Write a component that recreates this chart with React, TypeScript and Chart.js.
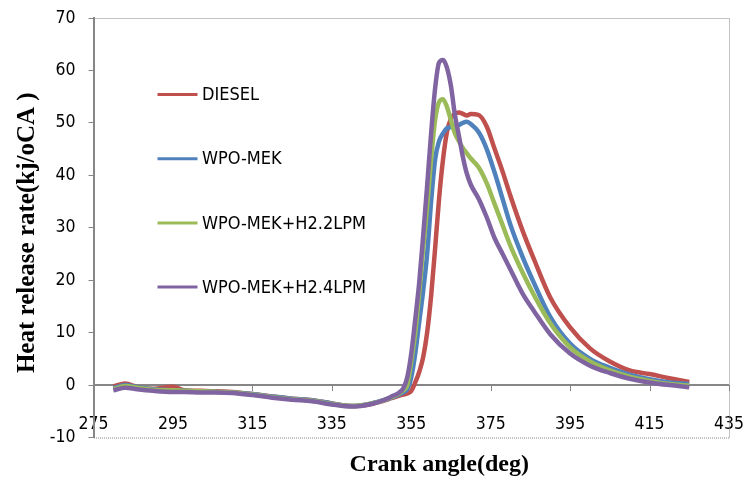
import React, { useEffect, useRef } from 'react';
import { Chart, registerables } from 'chart.js';
Chart.register(...registerables);

// Crank angle (deg)
const angles = [
  280, 283, 286, 290, 295, 298, 302, 306, 310, 315,
  320, 325, 330, 335, 340, 345, 348, 350, 352, 353,
  354, 355, 356, 357, 358, 359, 360, 361, 362, 363,
  364, 365, 366, 367, 368, 369, 370, 372, 374, 376,
  378, 380, 383, 386, 390, 395, 400, 405, 410, 415, 420, 425,
];

// Heat release rate (kj/oCA)
const diesel = [
  -0.2, 0.3, -0.4, -0.7, -0.3, -1.0, -1.1, -1.2, -1.3, -1.7,
  -2.2, -2.6, -2.9, -3.5, -4.0, -3.6, -3.0, -2.5, -2.0, -1.8,
  -1.6, -1.1, 0.5, 2.5, 5.3, 10, 17, 26, 35.5, 43,
  48.3, 50.8, 51.8, 52, 51.7, 51.4, 51.7, 51.5, 49.3, 45,
  40.7, 36, 29.5, 23.8, 16.7, 11, 7, 4.5, 2.8, 2.1, 1.3, 0.6,
];
const wpoMek = [
  -0.6, 0, -0.4, -0.8, -1.0, -1.1, -1.2, -1.3, -1.4, -1.7,
  -2.2, -2.6, -2.9, -3.5, -4.0, -3.5, -2.9, -2.4, -1.8, -1.4,
  -0.8, 1.5, 6, 12, 18, 25, 35, 43, 46.5, 48,
  49, 49.2, 49.3, 49.6, 50, 50.2, 49.8, 48.2, 45, 40.5,
  35.5, 30.5, 24.5, 19.3, 13, 7.9, 5, 3.3, 2, 1.1, 0.5, 0.2,
];
const wpoMekH2_2 = [
  -0.8, -0.2, -0.5, -0.9, -1.0, -1.1, -1.2, -1.3, -1.4, -1.8,
  -2.3, -2.7, -3.0, -3.6, -4.0, -3.5, -2.9, -2.3, -1.6, -1.0,
  0, 4.5, 10, 17.5, 26, 34, 43, 50.5, 54, 54.5,
  53, 50.5, 48, 46.5, 45.2, 44.2, 43.2, 41.5, 38.5, 34.5,
  30.5, 26.5, 21.5, 17, 11.8, 7.2, 4.5, 2.8, 1.6, 0.8, 0.2, -0.1,
];
const wpoMekH2_4 = [
  -1.0, -0.5, -0.8, -1.1, -1.3, -1.3, -1.4, -1.4, -1.5, -1.9,
  -2.4, -2.8, -3.1, -3.7, -4.1, -3.6, -2.9, -2.2, -1.4, -0.6,
  1.5, 6, 12.5, 19.5, 28.5, 38, 48, 56.5, 61.5, 62,
  60.5, 57, 51.5, 47.5, 43.5, 40.3, 38.2, 35.5, 32, 28,
  25, 22, 17.5, 14, 9.7, 6, 3.7, 2.3, 1.2, 0.5, 0, -0.4,
];

const seriesLabels = ['DIESEL', 'WPO-MEK', 'WPO-MEK+H2.2LPM', 'WPO-MEK+H2.4LPM'];
const seriesValues = [diesel, wpoMek, wpoMekH2_2, wpoMekH2_4];
const seriesColors = ['#C0504D', '#4F81BD', '#9BBB59', '#8064A2'];

const xMin = 275, xMax = 435, xStep = 20;
const yMin = -10, yMax = 70, yStep = 10;
const xTitle = 'Crank angle(deg)';
const yTitle = 'Heat release rate(kj/oCA )';

const AXIS = '#868686';
const NARROW = '"Liberation Sans Narrow", "Arial Narrow", "DejaVu Sans Condensed", sans-serif';
const SERIF = '"Liberation Serif", "Times New Roman", serif';

const framePlugin = {
  id: 'frame',
  beforeDatasetsDraw(chart: any) {
    const { ctx, chartArea } = chart;
    const xs = chart.scales.x, ys = chart.scales.y;
    const y0 = ys.getPixelForValue(0);
    ctx.save();
    ctx.strokeStyle = AXIS;
    ctx.lineWidth = 1;
    ctx.setLineDash([1, 1]);
    ctx.beginPath();
    ctx.moveTo(chartArea.left, chartArea.top + 0.5);
    ctx.lineTo(chartArea.right + 0.5, chartArea.top + 0.5);
    ctx.lineTo(chartArea.right + 0.5, chartArea.bottom + 0.5);
    ctx.lineTo(chartArea.left, chartArea.bottom + 0.5);
    ctx.stroke();
    ctx.setLineDash([]);
    ctx.lineWidth = 2;
    ctx.beginPath();
    ctx.moveTo(chartArea.left, y0);
    ctx.lineTo(chartArea.right, y0);
    ctx.stroke();
    ctx.lineWidth = 1;
    ctx.beginPath();
    for (const t of xs.ticks) {
      const px = Math.round(xs.getPixelForValue(t.value)) + 0.5;
      ctx.moveTo(px, y0);
      ctx.lineTo(px, y0 + 6);
    }
    ctx.stroke();
    ctx.restore();
  },
};

const overlayPlugin = {
  id: 'overlay',
  afterDatasetsDraw(chart: any) {
    const { ctx, chartArea } = chart;
    ctx.save();
    // legend inside the plot
    ctx.font = `18px ${NARROW}`;
    ctx.textBaseline = 'middle';
    ctx.textAlign = 'left';
    chart.data.datasets.forEach((ds: any, i: number) => {
      const y = chartArea.top + 76.5 + i * 64.2;
      const x1 = chartArea.left + 64;
      ctx.strokeStyle = ds.borderColor;
      ctx.lineWidth = 3;
      ctx.beginPath();
      ctx.moveTo(x1, y);
      ctx.lineTo(x1 + 40, y);
      ctx.stroke();
      ctx.fillStyle = '#000';
      ctx.fillText(ds.label, x1 + 44.5, y + 1);
    });
    // axis titles
    ctx.fillStyle = '#000';
    ctx.textAlign = 'center';
    ctx.font = `bold 24px ${SERIF}`;
    ctx.fillText(xTitle, (chartArea.left + chartArea.right) / 2 + 28, chart.height - 18);
    ctx.translate(28, (chartArea.top + chartArea.bottom) / 2 + 5);
    ctx.rotate(-Math.PI / 2);
    ctx.font = `bold 25px ${SERIF}`;
    ctx.fillText(yTitle, 0, 0);
    ctx.restore();
  },
};

export default function App() {
  const ref = useRef<HTMLCanvasElement | null>(null);
  useEffect(() => {
    if (!ref.current) return;
    const datasets = seriesLabels.map((label, s) => ({
      label,
      data: angles.map((a, i) => ({ x: a, y: seriesValues[s][i] })),
      borderColor: seriesColors[s],
      backgroundColor: seriesColors[s],
      borderWidth: 4.5,
      pointRadius: 0,
      fill: false,
      cubicInterpolationMode: 'monotone' as const,
      order: seriesLabels.length - s,
    }));
    const chart = new Chart(ref.current, {
      type: 'line',
      data: { datasets },
      options: {
        animation: false,
        responsive: true,
        maintainAspectRatio: false,
        layout: { padding: { left: 0, top: 18, right: 17, bottom: 0 } },
        plugins: { legend: { display: false }, tooltip: { enabled: false } },
        scales: {
          x: {
            type: 'linear',
            min: xMin,
            max: xMax,
            ticks: {
              stepSize: xStep,
              mirror: true,
              padding: 3,
              color: '#000',
              font: { family: NARROW, size: 17.5 },
              maxRotation: 0,
              autoSkip: false,
            },
            grid: { display: false, drawTicks: false },
            border: { display: false },
            title: { display: false, text: xTitle },
            afterFit: (scale: any) => {
              scale.height = 45.5;
              scale.paddingLeft = 0;
              scale.paddingRight = 0;
            },
          },
          y: {
            min: yMin,
            max: yMax,
            ticks: {
              stepSize: yStep,
              padding: 13,
              color: '#000',
              font: { family: NARROW, size: 17.5 },
            },
            grid: { display: true, drawOnChartArea: false, drawTicks: true, tickLength: 5, color: AXIS, tickColor: AXIS },
            border: { display: true, color: AXIS, width: 2 },
            title: { display: false, text: yTitle },
            afterFit: (scale: any) => {
              scale.width = 93.5;
              scale.paddingTop = 0;
              scale.paddingBottom = 0;
            },
          },
        },
      },
      plugins: [framePlugin, overlayPlugin],
    });
    return () => chart.destroy();
  }, []);
  return (
    <div style={{ position: 'fixed', left: 0, top: 0, width: 746, height: 483, background: '#fff' }}>
      <canvas ref={ref} />
    </div>
  );
}
